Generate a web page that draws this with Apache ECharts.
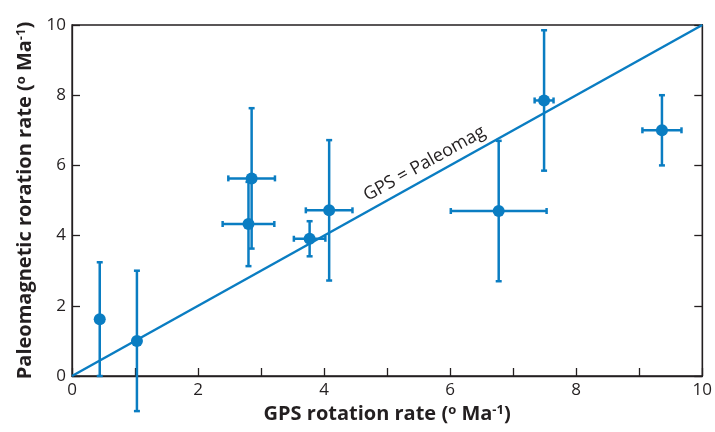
<!DOCTYPE html>
<html>
<head>
<meta charset="utf-8">
<script src="https://cdn.jsdelivr.net/npm/echarts@6/dist/echarts.min.js"></script>
<style>
  html, body { margin: 0; padding: 0; background: #fff; }
  #chart { width: 715px; height: 432px; }
</style>
</head>
<body>
<div id="chart"></div>
<script>
// GPS vs paleomagnetic rotation rates
const gpsRate = [0.44, 1.03, 2.80, 2.85, 3.77, 4.08, 6.77, 7.49, 9.36];
const paleoRate = [1.62, 1.00, 4.33, 5.63, 3.91, 4.72, 4.70, 7.85, 7.00];
const gpsErr = [0, 0, 0.41, 0.37, 0.25, 0.37, 0.76, 0.15, 0.31];
const paleoErr = [1.62, 2.00, 1.20, 2.00, 0.50, 2.00, 2.00, 2.00, 1.00];
const oneToOneX = [0, 10];
const oneToOneY = [0, 10];

const blue = '#0a7dc2';
const ink = '#231f20';
const font = 'Open Sans';

const chart = echarts.init(document.getElementById('chart'));

function errorBars(params, api) {
  const x = api.value(0), y = api.value(1), ex = api.value(2), ey = api.value(3);
  const style = { stroke: blue, lineWidth: 2.5 };
  const cap = 3;
  const kids = [];
  if (ey > 0) {
    const top = api.coord([x, y + ey]);
    const bot = api.coord([x, y - ey]);
    kids.push({ type: 'line', shape: { x1: top[0], y1: top[1], x2: bot[0], y2: bot[1] }, style: style });
    kids.push({ type: 'line', shape: { x1: top[0] - cap, y1: top[1], x2: top[0] + cap, y2: top[1] }, style: style });
    kids.push({ type: 'line', shape: { x1: bot[0] - cap, y1: bot[1], x2: bot[0] + cap, y2: bot[1] }, style: style });
  }
  if (ex > 0) {
    const l = api.coord([x - ex, y]);
    const r = api.coord([x + ex, y]);
    kids.push({ type: 'line', shape: { x1: l[0], y1: l[1], x2: r[0], y2: r[1] }, style: style });
    kids.push({ type: 'line', shape: { x1: l[0], y1: l[1] - cap, x2: l[0], y2: l[1] + cap }, style: style });
    kids.push({ type: 'line', shape: { x1: r[0], y1: r[1] - cap, x2: r[0], y2: r[1] + cap }, style: style });
  }
  return { type: 'group', children: kids };
}

const axisCommon = {
  min: 0,
  max: 10,
  interval: 2,
  axisLine: { show: true, lineStyle: { color: ink, width: 1.3 } },
  axisTick: { show: true, inside: true, length: 8, lineStyle: { color: ink, width: 1.3 } },
  splitLine: { show: false },
  axisLabel: { color: ink, fontSize: 17, fontFamily: font, margin: 6 }
};

const titleRich = {
  t: { fontSize: 20, fontWeight: 'bold', fontFamily: font, color: ink },
  o: { fontSize: 13, fontWeight: 'bold', fontFamily: font, color: ink, verticalAlign: 'top', padding: [0, 0, 7, 0] },
  s: { fontSize: 13, fontWeight: 'bold', fontFamily: font, color: ink, verticalAlign: 'top', padding: [0, 0, 7, 0] }
};

chart.setOption({
  animation: false,
  grid: { left: 72, right: 12, top: 25, bottom: 56, show: true, borderColor: ink, borderWidth: 1.3 },
  xAxis: Object.assign({}, axisCommon, {
    type: 'value',
    minorTick: { show: true, inside: true, splitNumber: 2, length: 8, lineStyle: { color: ink, width: 1.3 } },
    name: '{t|GPS rotation rate (}{o|o}{t| Ma}{s|-1}{t|)}',
    nameLocation: 'middle',
    nameGap: 27,
    nameTextStyle: { rich: titleRich }
  }),
  yAxis: [
    Object.assign({}, axisCommon, {
      type: 'value',
      name: '{t|Paleomagnetic roration rate (}{o|o}{t| Ma}{s|-1}{t|)}',
      nameLocation: 'middle',
      nameGap: 37,
      nameTextStyle: { rich: titleRich }
    }),
    Object.assign({}, axisCommon, {
      type: 'value',
      position: 'right',
      axisLabel: { show: false }
    })
  ],
  series: [
    {
      type: 'line',
      data: oneToOneX.map((v, i) => [v, oneToOneY[i]]),
      showSymbol: false,
      lineStyle: { color: blue, width: 2.5 },
      z: 1
    },
    {
      type: 'custom',
      renderItem: errorBars,
      data: gpsRate.map((v, i) => [v, paleoRate[i], gpsErr[i], paleoErr[i]]),
      z: 2
    },
    {
      type: 'scatter',
      data: gpsRate.map((v, i) => [v, paleoRate[i]]),
      symbolSize: 12,
      itemStyle: { color: blue, opacity: 1 },
      z: 3
    }
  ]
});

// label the 1:1 line, rotated to follow it
const p0 = chart.convertToPixel({ gridIndex: 0 }, [0, 0]);
const p1 = chart.convertToPixel({ gridIndex: 0 }, [10, 10]);
const ang = Math.atan2(p0[1] - p1[1], p1[0] - p0[0]);
const mid = chart.convertToPixel({ gridIndex: 0 }, [5.7, 5.7]);
chart.setOption({
  graphic: [{
    type: 'text',
    x: mid[0] - 14 * Math.sin(ang),
    y: mid[1] - 14 * Math.cos(ang),
    rotation: ang,
    style: { text: 'GPS = Paleomag', fill: ink, font: '18px "Open Sans"', align: 'center', verticalAlign: 'middle' }
  }]
});
</script>
</body>
</html>
